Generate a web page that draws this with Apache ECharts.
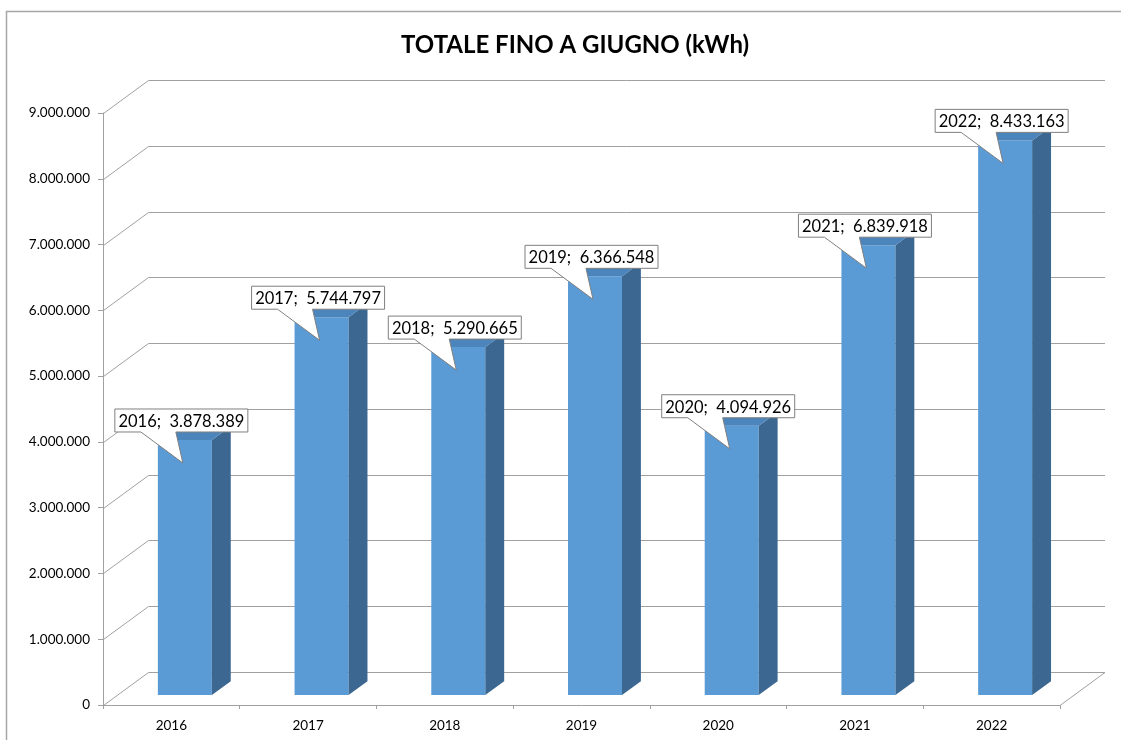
<!DOCTYPE html>
<html>
<head>
<meta charset="utf-8">
<script src="https://cdn.jsdelivr.net/npm/echarts@6/dist/echarts.min.js"></script>
<style>
  html, body { margin: 0; padding: 0; background: #fff; }
  #chart { width: 1121px; height: 740px; }
</style>
</head>
<body>
<div id="chart"></div>
<script>
// dati
const years = ['2016', '2017', '2018', '2019', '2020', '2021', '2022'];
const totals = [3878389, 5744797, 5290665, 6366548, 4094926, 6839918, 8433163];
const gridValues = [0, 1000000, 2000000, 3000000, 4000000, 5000000, 6000000, 7000000, 8000000, 9000000];

// effetto 3D: spostamento in profondita (pixel)
const DX = 45, DY = -33;
const FRONT = 0.3;   // posizione della faccia frontale della barra
const DEPTH = 0.42;  // profondita della barra
const HALF_W = 27;

const gridColor = '#a0a0a0';

function fmt(v) {
    return String(v).replace(/\B(?=(\d{3})+(?!\d))/g, '.');
}

var myChart = echarts.init(document.getElementById('chart'));

myChart.setOption({
    animation: false,
    title: {
        text: 'TOTALE FINO A GIUGNO (kWh)',
        left: 396,
        top: 28,
        textStyle: { fontFamily: 'Lato', fontSize: 24, fontWeight: 'bold', color: '#000' }
    },
    graphic: [{
        type: 'polyline',
        shape: { points: [[6.5, 760], [6.5, 11.5], [1130, 11.5]] },
        style: { stroke: '#a6a6a6', lineWidth: 1.5, fill: null },
        silent: true
    }],
    grid: { left: 103, right: 61, top: 113, bottom: 35 },
    xAxis: {
        type: 'category',
        data: years,
        axisLine: { lineStyle: { color: gridColor } },
        axisTick: { show: true, length: 4, lineStyle: { color: gridColor } },
        axisLabel: { fontFamily: 'Lato', fontSize: 13.5, color: '#000', margin: 14 },
        splitLine: { show: false }
    },
    yAxis: {
        type: 'value',
        min: 0,
        max: 9000000,
        interval: 1000000,
        axisLine: { show: true, lineStyle: { color: gridColor } },
        axisTick: { show: true, length: 5, lineStyle: { color: gridColor } },
        axisLabel: {
            fontFamily: 'Lato', fontSize: 13.5, color: '#000', margin: 13,
            padding: [4, 0, 0, 0], formatter: fmt
        },
        splitLine: { show: false }
    },
    series: [
        {
            // pareti e pavimento in prospettiva
            type: 'custom',
            z: 1,
            silent: true,
            clip: false,
            data: gridValues.map(v => [0, v]),
            renderItem: function (params, api) {
                const cs = params.coordSys;
                const y = Math.round(api.coord([0, api.value(1)])[1]) + 0.5;
                const x0 = cs.x + 0.5;
                const x1 = cs.x + cs.width;
                const children = [{
                    type: 'polyline',
                    shape: { points: [[x0, y], [x0 + DX, y + DY], [x1 + DX, y + DY]] },
                    style: { stroke: gridColor, lineWidth: 1, fill: null }
                }];
                if (api.value(1) === 0) {
                    children.push({
                        type: 'line',
                        shape: { x1: x1, y1: y, x2: x1 + DX, y2: y + DY },
                        style: { stroke: gridColor, lineWidth: 1 }
                    });
                }
                return { type: 'group', children: children };
            }
        },
        {
            // colonne 3D
            type: 'custom',
            z: 2,
            clip: false,
            data: totals.map((v, i) => [i, v]),
            renderItem: function (params, api) {
                const base = api.coord([api.value(0), 0]);
                const top = api.coord([api.value(0), api.value(1)]);
                const ox = FRONT * DX, oy = FRONT * DY;
                const dx = DEPTH * DX, dy = DEPTH * DY;
                const xl = base[0] - HALF_W + ox, xr = base[0] + HALF_W + ox;
                const yb = base[1] + oy, yt = top[1] + oy;
                return {
                    type: 'group',
                    children: [
                        {
                            type: 'rect',
                            shape: { x: xl, y: yt, width: xr - xl, height: yb - yt },
                            style: { fill: '#5b9bd5' }
                        },
                        {
                            type: 'polygon',
                            shape: { points: [[xr, yb], [xr + dx, yb + dy], [xr + dx, yt + dy], [xr, yt]] },
                            style: { fill: '#3b6790' }
                        },
                        {
                            type: 'polygon',
                            shape: { points: [[xl, yt], [xr, yt], [xr + dx, yt + dy], [xl + dx, yt + dy]] },
                            style: { fill: '#4c84bc' }
                        }
                    ]
                };
            }
        },
        {
            // etichette a fumetto
            type: 'custom',
            z: 3,
            clip: false,
            data: totals.map((v, i) => [i, v]),
            renderItem: function (params, api) {
                const base = api.coord([api.value(0), 0]);
                const top = api.coord([api.value(0), api.value(1)]);
                const tx = base[0] + FRONT * DX - 2;
                const ty = top[1] + FRONT * DY + 23;
                const L = tx - 68, R = tx + 65, T = ty - 54, B = ty - 31;
                return {
                    type: 'group',
                    children: [
                        {
                            type: 'polygon',
                            shape: { points: [[L, T], [R, T], [R, B], [tx - 7, B], [tx, ty], [tx - 42, B], [L, B]] },
                            style: { fill: '#fff', stroke: '#7f7f7f', lineWidth: 1 }
                        },
                        {
                            type: 'text',
                            style: {
                                x: (L + R) / 2, y: (T + B) / 2 + 1,
                                text: years[params.dataIndex] + ';  ' + fmt(api.value(1)),
                                align: 'center', verticalAlign: 'middle',
                                font: '16.5px Lato', fill: '#000'
                            }
                        }
                    ]
                };
            }
        }
    ]
});

window.onresize = myChart.resize;
</script>
</body>
</html>
